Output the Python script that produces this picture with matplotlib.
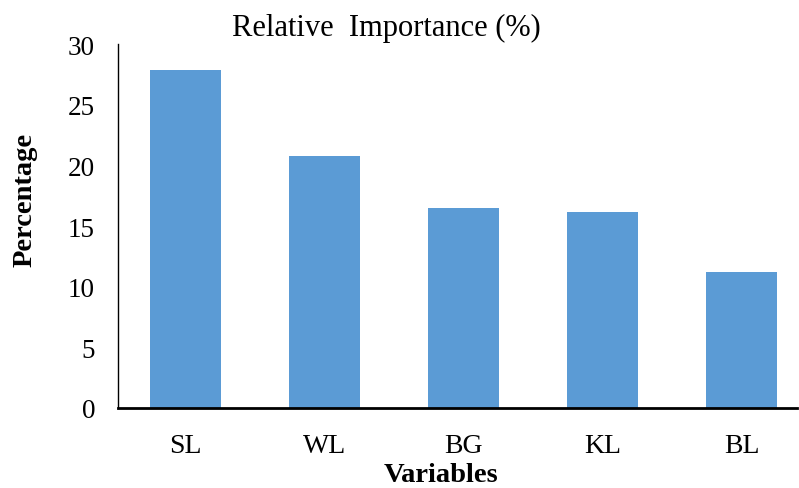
import matplotlib
matplotlib.use("Agg")
import matplotlib.pyplot as plt

variables = ["SL", "WL", "BG", "KL", "BL"]
importance = [27.9, 20.8, 16.5, 16.2, 11.2]
yticks = [0, 5, 10, 15, 20, 25, 30]

plt.rcParams["font.family"] = ["Liberation Serif", "DejaVu Serif"]

fig = plt.figure(figsize=(7.99, 4.89), dpi=100)
ax = fig.add_axes([0.1477, 0.1636, 0.85, 0.744])

ax.bar(range(len(variables)), importance, width=0.51, color="#5B9BD5")

ax.set_xlim(-0.486, 4.4)
ax.set_ylim(0, 30)
ax.set_yticks(yticks)
ax.set_xticks(range(len(variables)))
ax.set_xticklabels(variables)
ax.tick_params(axis="y", length=0, labelsize=19.5, pad=16.5)
ax.tick_params(axis="x", length=0, labelsize=20, pad=18)

for side in ["top", "right"]:
    ax.spines[side].set_visible(False)
ax.spines["left"].set_linewidth(1.0)
ax.spines["bottom"].set_linewidth(2.0)

ax.set_xlabel("Variables", fontsize=20.5, fontweight="bold", va="center")
ax.xaxis.set_label_coords(0.475, -0.182)
ax.set_ylabel("Percentage", fontsize=20.5, fontweight="bold", va="center")
ax.yaxis.set_label_coords(-0.137, 0.574)
fig.text(0.483, 0.942, "Relative  Importance (%)", ha="center", va="center", fontsize=22)

fig.savefig("out.png", dpi=100)
